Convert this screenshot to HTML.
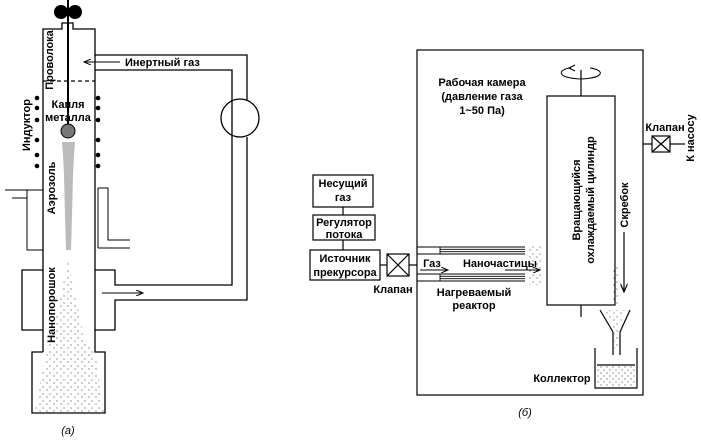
<!DOCTYPE html>
<html><head><meta charset="utf-8"><style>
body{margin:0;background:#fff}
svg text{font-family:"Liberation Sans","DejaVu Sans",sans-serif;font-size:11px;font-weight:bold;fill:#000}
</style></head><body>
<svg width="701" height="440" viewBox="0 0 701 440" xmlns="http://www.w3.org/2000/svg">
<defs><pattern id="dots" width="6" height="6" patternUnits="userSpaceOnUse"><circle cx="1" cy="1" r="0.55" fill="#000"/><circle cx="4" cy="4" r="0.5" fill="#000"/></pattern>
<pattern id="dots2" width="7" height="7" patternUnits="userSpaceOnUse"><circle cx="1" cy="2" r="0.5" fill="#000"/><circle cx="5" cy="5" r="0.5" fill="#000"/></pattern>
<marker id="ar" markerWidth="8" markerHeight="6" refX="7" refY="3" orient="auto"><path d="M0,0 L7,3 L0,6" fill="none" stroke="#000"/></marker></defs>
<g fill="none" stroke="#000" stroke-width="1.3">
<path d="M43,352 V29 H62 V23 H73 V29 H95 V55 H247 V100"/>
<path d="M247,137 V300 H115 V330 H95 V352 H105 V413 H32 V352 H43"/>
<path d="M95,270 H115 V285 H232 V70 H95"/>
<path d="M95,55 V330"/>
<path d="M43,270 H22 V330 H43"/>
<circle cx="240" cy="118" r="19"/>
<line x1="43" y1="81" x2="95" y2="81" stroke-dasharray="4,3"/>
<path d="M43,190 H27 V250 H43" stroke-width="1"/>
<path d="M98,188 H108 V240 H130 M98,248 H130 M98,188 V248" stroke-width="1"/>
<path d="M5,190 H27 M12,198 H27" stroke-width="1"/>
<line x1="120" y1="62" x2="84" y2="62" marker-end="url(#ar)" stroke-width="1"/>
<line x1="102" y1="293" x2="143" y2="293" marker-end="url(#ar)" stroke-width="1"/>
</g>
<line x1="68" y1="0" x2="68" y2="128" stroke="#000" stroke-width="2"/>
<circle cx="61" cy="12" r="7"/><circle cx="75" cy="12" r="7"/>
<g fill="#000"><circle cx="37" cy="98" r="2.3"/><circle cx="37" cy="108" r="2.3"/><circle cx="37" cy="120" r="2.3"/><circle cx="37" cy="140" r="2.3"/><circle cx="37" cy="155" r="2.3"/><circle cx="37" cy="166" r="2.3"/>
<circle cx="98" cy="98" r="2.3"/><circle cx="98" cy="108" r="2.3"/><circle cx="98" cy="120" r="2.3"/><circle cx="98" cy="140" r="2.3"/><circle cx="98" cy="155" r="2.3"/><circle cx="98" cy="166" r="2.3"/></g>
<path d="M62,142 L75,142 L74,155 L73,175 L72,215 L71,250 L66,250 L65,215 L64,175 L63,155 Z" fill="#bbb"/>
<circle cx="68" cy="131" r="7" fill="#777" stroke="#000"/>
<path d="M68,260 L60,300 L50,340 L46,352 L34,413 L104,413 L95,352 L85,340 L76,300 Z" fill="url(#dots2)"/>
<text x="53" y="60" transform="rotate(-90 53 60)" text-anchor="middle">Проволока</text>
<text x="30" y="125" transform="rotate(-90 30 125)" text-anchor="middle">Индуктор</text>
<text x="68" y="108" text-anchor="middle">Капля</text>
<text x="68" y="121" text-anchor="middle">металла</text>
<text x="55" y="188" transform="rotate(-90 55 188)" text-anchor="middle">Аэрозоль</text>
<text x="55" y="305" transform="rotate(-90 55 305)" text-anchor="middle">Нанопорошок</text>
<text x="125" y="66">Инертный газ</text>
<text x="68" y="434" text-anchor="middle" style="font-weight:normal;font-style:italic">(а)</text>
<g fill="none" stroke="#000" stroke-width="1.2">
<rect x="417" y="50" width="226" height="345"/>
<rect x="547" y="96" width="68" height="209"/>
<line x1="581" y1="70" x2="581" y2="96"/><line x1="581" y1="305" x2="581" y2="317"/>
<path d="M590,68 C605,70 605,78 581,79 C555,78 558,69 571,68" stroke-width="1"/>
<path d="M575,65 L569,68 L575,71" stroke-width="1"/>
<rect x="313" y="175" width="60" height="32"/>
<rect x="313" y="215" width="62" height="25"/>
<rect x="310" y="250" width="70" height="30"/>
<line x1="343" y1="207" x2="343" y2="215"/><line x1="343" y1="240" x2="343" y2="250"/>
<line x1="380" y1="265" x2="387" y2="265"/><line x1="409" y1="265" x2="417" y2="265"/>
<rect x="387" y="254" width="22" height="22"/><path d="M387,254 L409,276 M409,254 L387,276"/>
<g stroke-width="0.9"><path d="M417,247 H525 M417,254 H525 M440,247 V254 M440,249.3 H525 M440,251.7 H525"/>
<path d="M417,274 H525 M417,281 H525 M440,274 V281 M440,276.3 H525 M440,278.7 H525"/></g>
<line x1="643" y1="144" x2="652" y2="144"/><line x1="670" y1="144" x2="685" y2="144"/>
<rect x="652" y="136" width="18" height="16"/><path d="M652,136 L670,152 M670,136 L652,152"/>
<line x1="624" y1="232" x2="624" y2="292" marker-end="url(#ar)"/>
<path d="M600,310 L613,332 V355 M630,310 L620,332 V355"/>
<path d="M595,348 V388 H637 V348 M597,365 H635"/>
<line x1="420" y1="270" x2="448" y2="270" marker-end="url(#ar)" stroke-width="1"/>
<line x1="505" y1="270" x2="540" y2="270" marker-end="url(#ar)" stroke-width="1"/>
</g>
<rect x="597" y="365" width="38" height="22" fill="url(#dots)"/>
<path d="M605,310 L625,310 L619,332 L619,350 L614,350 L614,332 Z" fill="url(#dots2)"/>
<rect x="527" y="245" width="15" height="40" fill="url(#dots2)"/>
<rect x="612" y="265" width="8" height="40" fill="url(#dots2)"/>
<text x="482" y="86" text-anchor="middle">Рабочая камера</text>
<text x="482" y="100" text-anchor="middle">(давление газа</text>
<text x="482" y="114" text-anchor="middle">1~50 Па)</text>
<text x="580" y="200" transform="rotate(-90 580 200)" text-anchor="middle">Вращающийся</text>
<text x="594" y="200" transform="rotate(-90 594 200)" text-anchor="middle">охлаждаемый цилиндр</text>
<text x="628" y="205" transform="rotate(-90 628 205)" text-anchor="middle">Скребок</text>
<text x="694" y="138" transform="rotate(-90 694 138)" text-anchor="middle">К насосу</text>
<text x="665" y="131" text-anchor="middle">Клапан</text>
<text x="562" y="382" text-anchor="middle">Коллектор</text>
<text x="343" y="187" text-anchor="middle">Несущий</text>
<text x="343" y="201" text-anchor="middle">газ</text>
<text x="344" y="226" text-anchor="middle">Регулятор</text>
<text x="344" y="238" text-anchor="middle">потока</text>
<text x="345" y="262" text-anchor="middle">Источник</text>
<text x="345" y="276" text-anchor="middle">прекурсора</text>
<text x="393" y="293" text-anchor="middle">Клапан</text>
<text x="432" y="267" text-anchor="middle">Газ</text>
<text x="500" y="267" text-anchor="middle">Наночастицы</text>
<text x="474" y="296" text-anchor="middle">Нагреваемый</text>
<text x="474" y="309" text-anchor="middle">реактор</text>
<text x="525" y="416" text-anchor="middle" style="font-weight:normal;font-style:italic">(б)</text>
</svg>
</body></html>
